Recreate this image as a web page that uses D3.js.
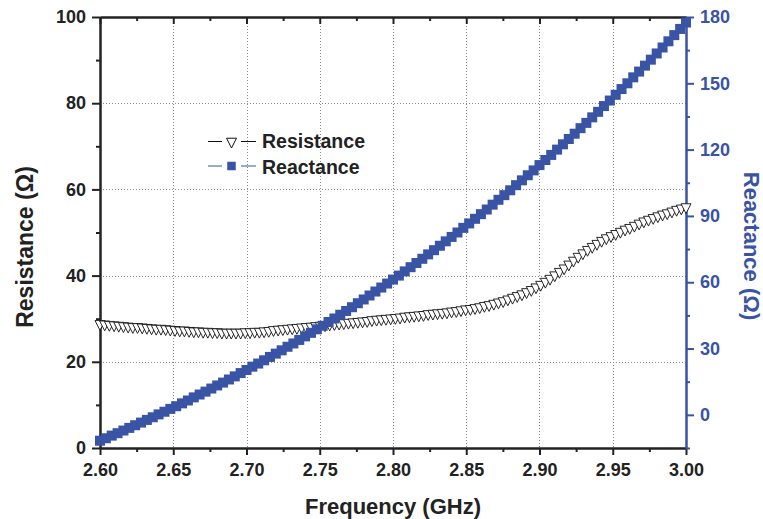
<!DOCTYPE html>
<html>
<head>
<meta charset="utf-8">
<title>Resistance / Reactance</title>
<script src="https://cdn.jsdelivr.net/npm/d3@7/dist/d3.min.js"></script>
<style>
  body { margin: 0; background: #fff; }
  text { font-family: "Liberation Sans", Arial, sans-serif; font-weight: bold; }
</style>
</head>
<body>
<svg id="chart" width="763" height="519"></svg>
<script>
// resistance sampled every 3.2 MHz from 2.600 GHz
const resStart = 2.6, resStep = 0.0032;
const resistance = [
  28.8, 28.7, 28.6, 28.5, 28.4, 28.3, 28.2, 28.1, 28.1, 28.0,
  27.9, 27.8, 27.7, 27.7, 27.6, 27.5, 27.4, 27.3, 27.3, 27.2,
  27.1, 27.1, 27.0, 27.0, 26.9, 26.9, 26.8, 26.8, 26.8, 26.8,
  26.8, 26.9, 26.9, 27.0, 27.0, 27.1, 27.2, 27.4, 27.5, 27.6,
  27.7, 27.8, 27.9, 28.0, 28.1, 28.2, 28.3, 28.4, 28.5, 28.7,
  28.8, 28.9, 29.0, 29.1, 29.2, 29.3, 29.4, 29.5, 29.7, 29.8,
  29.9, 30.0, 30.1, 30.2, 30.3, 30.5, 30.6, 30.7, 30.8, 30.9,
  31.1, 31.2, 31.3, 31.4, 31.5, 31.7, 31.8, 32.0, 32.2, 32.3,
  32.5, 32.7, 33.0, 33.2, 33.5, 33.8, 34.1, 34.5, 34.9, 35.3,
  35.7, 36.2, 36.7, 37.3, 37.9, 38.6, 39.3, 40.1, 40.9, 41.7,
  42.6, 43.5, 44.4, 45.2, 46.0, 46.7, 47.4, 48.1, 48.7, 49.2,
  49.7, 50.2, 50.7, 51.1, 51.6, 52.1, 52.6, 53.0, 53.4, 53.8,
  54.2, 54.5, 54.9, 55.3, 55.6, 55.9
];
// reactance sampled every 4 MHz from 2.600 GHz
const reaStart = 2.6, reaStep = 0.004;
const reactance = [
  -11.7, -10.6, -9.4, -8.3, -7.1, -5.9, -4.7, -3.5, -2.3, -1.1,
  0.2, 1.4, 2.7, 3.9, 5.2, 6.5, 7.9, 9.2, 10.5, 11.9,
  13.3, 14.6, 16.0, 17.4, 18.9, 20.3, 21.8, 23.2, 24.7, 26.2,
  27.7, 29.2, 30.8, 32.3, 33.9, 35.5, 37.1, 38.7, 40.3, 42.0,
  43.6, 45.3, 47.0, 48.7, 50.5, 52.2, 54.0, 55.8, 57.6, 59.4,
  61.2, 63.0, 64.9, 66.8, 68.7, 70.6, 72.6, 74.5, 76.5, 78.5,
  80.5, 82.5, 84.6, 86.6, 88.7, 90.8, 92.9, 95.1, 97.3, 99.4,
  101.6, 103.9, 106.1, 108.4, 110.6, 113.0, 115.3, 117.6, 120.0, 122.4,
  124.8, 127.2, 129.7, 132.1, 134.6, 137.1, 139.7, 142.2, 144.8, 147.4,
  150.0, 152.7, 155.3, 158.0, 160.7, 163.5, 166.2, 169.0, 171.8, 174.6,
  177.5
];

const freqTicks = [2.60, 2.65, 2.70, 2.75, 2.80, 2.85, 2.90, 2.95, 3.00];
const freqMinor = [2.625, 2.675, 2.725, 2.775, 2.825, 2.875, 2.925, 2.975];
const resTicks = [0, 20, 40, 60, 80, 100];
const resMinor = [10, 30, 50, 70, 90];
const reaTicks = [0, 30, 60, 90, 120, 150, 180];
const reaMinor = [-15, 15, 45, 75, 105, 135, 165];
const seriesNames = ["Resistance", "Reactance"];

const resData = resistance.map((v, i) => ({ f: resStart + i * resStep, v: v }));
const reaData = reactance.map((v, i) => ({ f: reaStart + i * reaStep, v: v }));

const svg = d3.select('#chart');
const m = { left: 100, right: 686, top: 17, bottom: 448 };
const blue = '#3953a5';

const x = d3.scaleLinear().domain([2.6, 3.0]).range([m.left, m.right]);
const yL = d3.scaleLinear().domain([0, 100]).range([m.bottom, m.top]);
const yR = d3.scaleLinear().domain([-15, 180]).range([m.bottom, m.top]);

// dotted grid
const grid = svg.append('g');
grid.selectAll('line.gx')
  .data(freqTicks.slice(1, -1))
  .enter().append('line')
  .attr('x1', d => Math.round(x(d)) + 0.5).attr('x2', d => Math.round(x(d)) + 0.5)
  .attr('y1', m.top).attr('y2', m.bottom);
grid.selectAll('line.gy')
  .data(resTicks.slice(1, -1))
  .enter().append('line')
  .attr('y1', d => Math.round(yL(d)) + 0.5).attr('y2', d => Math.round(yL(d)) + 0.5)
  .attr('x1', m.left).attr('x2', m.right);
grid.selectAll('line')
  .attr('stroke', '#8a8a8a')
  .attr('stroke-width', 1)
  .attr('stroke-dasharray', '1,2');

function styleAxis(g, color) {
  g.select('.domain').attr('stroke', color).attr('stroke-width', 2);
  g.selectAll('.tick line').attr('stroke', color).attr('stroke-width', 2);
  g.selectAll('.tick text')
    .attr('fill', color)
    .style('font-size', '18px')
    .style('font-family', '"Liberation Sans", Arial, sans-serif')
    .style('font-weight', 'bold');
}

// bottom axis
svg.append('g').attr('transform', `translate(0,${m.bottom})`)
  .call(d3.axisBottom(x).tickValues(freqMinor).tickSize(4).tickFormat('').tickSizeOuter(0))
  .call(g => styleAxis(g, '#222'));
svg.append('g').attr('transform', `translate(0,${m.bottom})`)
  .call(d3.axisBottom(x).tickValues(freqTicks).tickSize(7).tickPadding(8)
    .tickFormat(d3.format('.2f')).tickSizeOuter(0))
  .call(g => styleAxis(g, '#222'));

// top axis (ticks inward)
svg.append('g').attr('transform', `translate(0,${m.top})`)
  .call(d3.axisTop(x).tickValues(freqMinor).tickSize(-4).tickFormat('').tickSizeOuter(0))
  .call(g => styleAxis(g, '#222'));
svg.append('g').attr('transform', `translate(0,${m.top})`)
  .call(d3.axisTop(x).tickValues(freqTicks).tickSize(-7).tickFormat('').tickSizeOuter(0))
  .call(g => styleAxis(g, '#222'));

// left axis
svg.append('g').attr('transform', `translate(${m.left},0)`)
  .call(d3.axisLeft(yL).tickValues(resMinor).tickSize(4).tickFormat('').tickSizeOuter(0))
  .call(g => styleAxis(g, '#222'));
svg.append('g').attr('transform', `translate(${m.left},0)`)
  .call(d3.axisLeft(yL).tickValues(resTicks).tickSize(8).tickPadding(6).tickSizeOuter(0))
  .call(g => styleAxis(g, '#222'));

// right axis
svg.append('g').attr('transform', `translate(${m.right},0)`)
  .call(d3.axisRight(yR).tickValues(reaMinor).tickSize(4).tickFormat('').tickSizeOuter(0))
  .call(g => styleAxis(g, blue));
svg.append('g').attr('transform', `translate(${m.right},0)`)
  .call(d3.axisRight(yR).tickValues(reaTicks).tickSize(8).tickPadding(6).tickSizeOuter(0))
  .call(g => styleAxis(g, blue));

// marker shapes
const triPath = 'M-5,-3.3L5,-3.3L0,6.5Z';
const sq = 10;

// resistance series
svg.append('path')
  .attr('fill', 'none').attr('stroke', '#111').attr('stroke-width', 1)
  .attr('d', d3.line().x(d => x(d.f)).y(d => yL(d.v))(resData));
svg.append('g').selectAll('path')
  .data(resData)
  .enter().append('path')
  .attr('d', triPath)
  .attr('transform', d => `translate(${x(d.f)},${yL(d.v)})`)
  .attr('fill', '#fff').attr('stroke', '#111').attr('stroke-width', 0.9);

// reactance series
svg.append('path')
  .attr('fill', 'none').attr('stroke', blue).attr('stroke-width', 1)
  .attr('d', d3.line().x(d => x(d.f)).y(d => yR(d.v))(reaData));
svg.append('g').selectAll('rect')
  .data(reaData)
  .enter().append('rect')
  .attr('x', d => x(d.f) - sq / 2).attr('y', d => yR(d.v) - sq / 2)
  .attr('width', sq).attr('height', sq)
  .attr('fill', blue);

// legend
const leg = svg.append('g');
leg.append('line').attr('x1', 208).attr('x2', 222).attr('y1', 141.5).attr('y2', 141.5).attr('stroke', '#111');
leg.append('line').attr('x1', 241).attr('x2', 256).attr('y1', 141.5).attr('y2', 141.5).attr('stroke', '#111');
leg.append('path').attr('d', triPath).attr('transform', 'translate(231.5,141.5)')
  .attr('fill', '#fff').attr('stroke', '#111').attr('stroke-width', 1);
leg.append('text').attr('x', 262).attr('y', 148).style('font-size', '19.5px').attr('fill', '#222')
  .text(seriesNames[0]);
leg.append('line').attr('x1', 208).attr('x2', 222).attr('y1', 166).attr('y2', 166).attr('stroke', blue);
leg.append('line').attr('x1', 241).attr('x2', 256).attr('y1', 166).attr('y2', 166).attr('stroke', blue);
leg.append('rect').attr('x', 231.5 - 4.25).attr('y', 166 - 4.25).attr('width', 8.5).attr('height', 8.5).attr('fill', blue);
leg.append('text').attr('x', 262).attr('y', 174).style('font-size', '19.5px').attr('fill', '#222')
  .text(seriesNames[1]);

// axis titles
svg.append('text')
  .attr('x', 393).attr('y', 514)
  .attr('text-anchor', 'middle').style('font-size', '22px').attr('fill', '#222')
  .text('Frequency (GHz)');
svg.append('text')
  .attr('transform', 'translate(33,247) rotate(-90)')
  .attr('text-anchor', 'middle').style('font-size', '23px').attr('fill', '#222')
  .text('Resistance (\u03A9)');
svg.append('text')
  .attr('transform', 'translate(744,246) rotate(90)')
  .attr('text-anchor', 'middle').style('font-size', '22px').attr('fill', blue)
  .text('Reactance (\u03A9)');
</script>
</body>
</html>
